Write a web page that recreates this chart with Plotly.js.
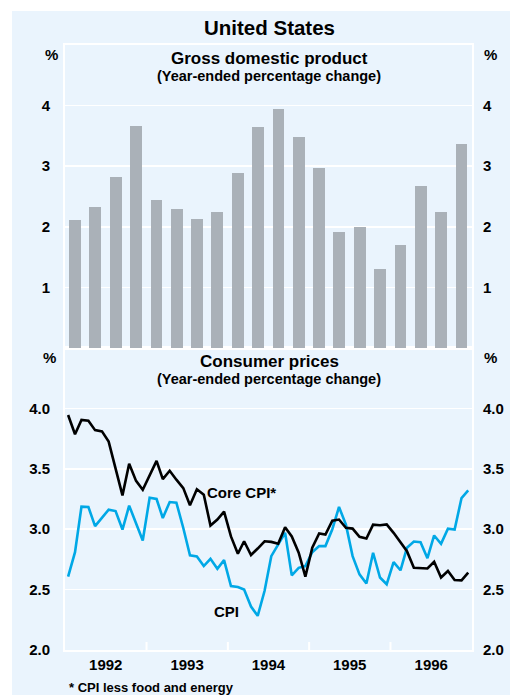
<!DOCTYPE html>
<html><head><meta charset="utf-8">
<script src="https://cdn.plot.ly/plotly-3.0.1.min.js"></script>
<style>html,body{margin:0;padding:0;background:#fff}#chart{width:510px;height:695px}</style>
</head><body><div id="chart"></div>
<script>
// ---- data ----
const years = [1992, 1993, 1994, 1995, 1996];
const yearLabels = ['1992', '1993', '1994', '1995', '1996'];
const quarterMidDays = ['02-15', '05-16', '08-16', '11-15'];
const monthMidDay = '15';

// GDP, year-ended % change, quarterly 1992 Q1 - 1996 Q4
const gdp = [2.12, 2.32, 2.83, 3.66, 2.45, 2.30, 2.13, 2.25, 2.89, 3.64,
             3.94, 3.48, 2.97, 1.92, 1.99, 1.31, 1.70, 2.67, 2.25, 3.37];

// Core CPI (CPI less food and energy), year-ended % change, monthly
const coreCpi = [3.945, 3.786, 3.904, 3.898, 3.82, 3.81, 3.725, 3.50, 3.28, 3.541,
                 3.40, 3.327, 3.445, 3.566, 3.415, 3.484, 3.41, 3.34, 3.198, 3.33,
                 3.286, 3.03, 3.08, 3.146, 2.94, 2.797, 2.90, 2.786, 2.84, 2.90,
                 2.895, 2.88, 3.016, 2.94, 2.805, 2.607, 2.846, 2.964, 2.956, 3.07,
                 3.08, 3.011, 3.005, 2.937, 2.923, 3.038, 3.033, 3.04, 2.97, 2.893,
                 2.818, 2.681, 2.675, 2.675, 2.73, 2.60, 2.654, 2.58, 2.577, 2.64];

// CPI, year-ended % change, monthly
const cpi = [2.607, 2.81, 3.187, 3.184, 3.025, 3.093, 3.162, 3.15, 2.997, 3.195,
             3.05, 2.907, 3.261, 3.25, 3.093, 3.225, 3.22, 3.01, 2.783, 2.775,
             2.695, 2.755, 2.673, 2.744, 2.53, 2.522, 2.50, 2.36, 2.283, 2.49,
             2.777, 2.873, 2.97, 2.618, 2.68, 2.695, 2.81, 2.86, 2.86, 3.0,
             3.184, 3.038, 2.777, 2.626, 2.55, 2.805, 2.60, 2.544, 2.728, 2.66,
             2.846, 2.898, 2.893, 2.76, 2.948, 2.879, 3.005, 2.997, 3.258, 3.321];

const gdpTicks = [1, 2, 3, 4];
const cpiTicks = [2.0, 2.5, 3.0, 3.5, 4.0];

// ---- derived categories (dates) ----
const quarterDates = [];
years.forEach(y => quarterMidDays.forEach(d => quarterDates.push(y + '-' + d)));
const monthDates = [];
years.forEach(y => { for (let m = 1; m <= 12; m++) monthDates.push(y + '-' + String(m).padStart(2, '0') + '-' + monthMidDay); });
const midYear = years.map(y => y + '-07-02');
const yearBounds = years.slice(1).map(y => y + '-01-01');
const xRange = [years[0] + '-01-01', (years[years.length - 1] + 1) + '-01-01'];

// ---- geometry helpers (pixel -> paper) ----
const L = 65, R = 472, T = 45, B = 650;
const px = x => (x - L) / (R - L);
const py = y => (B - y) / (B - T);
const split = py(348);

const FONT = 'Liberation Sans, Arial, Helvetica, sans-serif';
const bold = (s) => ({family: FONT, size: s, color: '#000', weight: 700});
const BG = '#eaf4fd';
const BLUE = 'rgb(0,168,230)';

const traces = [
  {type: 'bar', x: quarterDates, y: gdp, xaxis: 'x2', yaxis: 'y2',
   width: 53 * 86400000, marker: {color: '#aab1b8', line: {width: 0}}, hoverinfo: 'skip'},
  {type: 'scatter', mode: 'lines', x: monthDates, y: cpi, xaxis: 'x', yaxis: 'y',
   line: {color: BLUE, width: 2.6}, hoverinfo: 'skip'},
  {type: 'scatter', mode: 'lines', x: monthDates, y: coreCpi, xaxis: 'x', yaxis: 'y',
   line: {color: '#000', width: 2.6}, hoverinfo: 'skip'},
  // empty helper traces so the right-hand mirror axes get drawn
  {type: 'scatter', mode: 'lines', x: [], y: [], xaxis: 'x', yaxis: 'y3', hoverinfo: 'skip'},
  {type: 'scatter', mode: 'lines', x: [], y: [], xaxis: 'x2', yaxis: 'y4', hoverinfo: 'skip'}
];

const ann = (text, x, y, size, xanchor) => ({
  text, xref: 'paper', yref: 'paper', x: px(x), y: py(y), xanchor: xanchor || 'center',
  yanchor: 'middle', showarrow: false, font: bold(size)
});

const yCommon = {showgrid: true, gridcolor: '#fff', gridwidth: 1.5, zeroline: false,
  showline: true, linecolor: '#fff', linewidth: 2, mirror: true, ticks: '',
  tickfont: bold(15), tickmode: 'array', ticklabelstandoff: 10, fixedrange: true};
const yRight = {zeroline: false, showgrid: false, showline: false, ticks: '', side: 'right',
  tickfont: bold(15), tickmode: 'array', ticklabelstandoff: 10, fixedrange: true};

const tickShapes = yearBounds.map(d => ({
  type: 'line', xref: 'x', yref: 'paper', x0: d, x1: d, y0: 0, y1: py(642),
  line: {color: '#fff', width: 2}
}));

const layout = {
  width: 510, height: 695,
  margin: {l: L, r: 510 - R, t: T, b: 695 - B, pad: 0},
  paper_bgcolor: '#fff', plot_bgcolor: 'rgba(0,0,0,0)',
  showlegend: false, bargap: 0,
  xaxis: {type: 'date', range: xRange, anchor: 'y', domain: [0, 1],
    tickmode: 'array', tickvals: midYear, ticktext: yearLabels, ticks: '',
    tickfont: bold(15), showgrid: false, zeroline: false,
    showline: true, linecolor: '#fff', linewidth: 2, mirror: true,
    fixedrange: true},
  xaxis2: {type: 'date', range: xRange, anchor: 'y2', domain: [0, 1],
    showticklabels: false, ticks: '', showgrid: false, zeroline: false,
    showline: true, linecolor: '#fff', linewidth: 2, mirror: true, fixedrange: true},
  yaxis: Object.assign({}, yCommon, {domain: [0, split], anchor: 'x', range: [2, 4.5],
    tickvals: cpiTicks, ticktext: cpiTicks.map(v => v.toFixed(1))}),
  yaxis3: Object.assign({}, yRight, {overlaying: 'y', anchor: 'x', range: [2, 4.5],
    tickvals: cpiTicks, ticktext: cpiTicks.map(v => v.toFixed(1))}),
  yaxis2: Object.assign({}, yCommon, {domain: [split, 1], anchor: 'x2', range: [0, 5],
    tickvals: gdpTicks, ticktext: gdpTicks.map(String)}),
  yaxis4: Object.assign({}, yRight, {overlaying: 'y2', anchor: 'x2', range: [0, 5],
    tickvals: gdpTicks, ticktext: gdpTicks.map(String)}),
  shapes: [
    {type: 'rect', xref: 'paper', yref: 'paper', x0: px(12), x1: px(515), y0: py(700), y1: py(11),
     fillcolor: BG, line: {width: 0}, layer: 'below'}
  ].concat(tickShapes),
  annotations: [
    ann('United States', 269, 28, 20.5),
    ann('Gross domestic product', 269, 59, 17),
    ann('(Year-ended percentage change)', 269, 76, 14.5),
    ann('%', 51, 55, 15), ann('%', 490, 55, 15),
    ann('Consumer prices', 269, 361.5, 17),
    ann('(Year-ended percentage change)', 269, 379, 14.5),
    ann('%', 49, 358, 15), ann('%', 490, 358, 15),
    ann('Core CPI*', 205, 492, 15, 'left'),
    ann('CPI', 212, 611, 15, 'left'),
    ann('* CPI less food and energy', 67, 687, 13, 'left')
  ]
};

Plotly.newPlot('chart', traces, layout, {staticPlot: true, displayModeBar: false});
</script>
</body></html>
